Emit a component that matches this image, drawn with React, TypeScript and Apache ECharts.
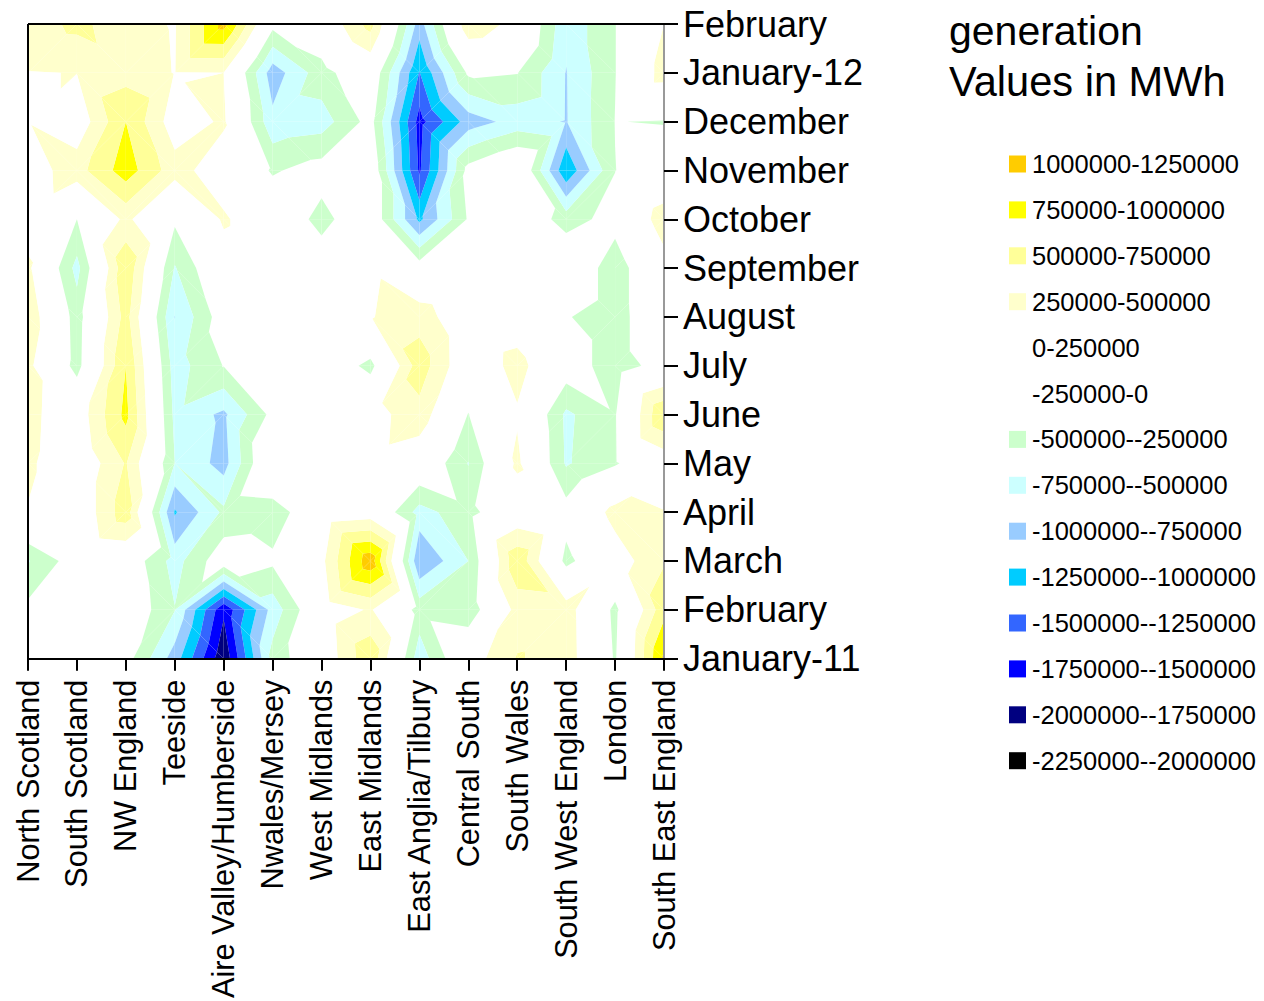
import React, { useEffect, useRef } from "react";
import * as echarts from "echarts";

const regions = ["North Scotland","South Scotland","NW England","Teeside","Aire Valley/Humberside","Nwales/Mersey","West Midlands","East Midlands","East Anglia/Tilbury","Central South","South Wales","South West England","London","South East England"];
const months = ["January-11","February","March","April","May","June","July","August","September","October","November","December","January-12","February"];

// values in thousands of MWh, from January-11 to the last February
const northScotland = [100,-175,-520,236,305,316,324,446,310,87,100,240,240,350];
const southScotland = [0,0,-90,0,0,80,-350,-370,-583,-250,400,60,255,570];
const nwEngland = [-140,10,-30,650,520,820,750,600,710,320,880,750,400,350];
const teeside = [-870,-490,-600,-1030,-500,-560,-620,-755,-520,-200,360,100,240,230];
const aireValley = [-1950,-1700,-60,-450,-850,-800,-240,-90,100,290,80,290,250,1100];
const nwalesMersey = [-400,-650,-200,-400,150,-170,-100,0,0,0,-280,-680,-890,-160];
const westMidlands = [30,70,180,20,0,0,0,0,-70,-340,-130,-620,-350,0];
const eastMidlands = [700,280,1180,100,150,130,-330,235,210,0,0,-150,0,600];
const eastAnglia = [-650,-350,-990,-600,40,414,640,400,-100,-1060,-1540,-1600,-1260,-870];
const centralSouth = [100,-440,-500,-340,-510,-260,10,0,-170,-220,-150,-880,-200,450];
const southWales = [520,350,700,30,310,220,350,80,0,0,130,-650,-240,150];
const southWest = [400,390,-330,-130,-530,-550,-80,-230,30,-360,-1210,-765,-760,-680];
const london = [-280,-320,100,350,-280,-270,-400,-400,-400,-150,-255,-245,-260,-260];
const southEast = [1050,670,480,260,50,750,-120,100,130,400,-50,-265,378,250];
const grid = [northScotland,southScotland,nwEngland,teeside,aireValley,nwalesMersey,westMidlands,eastMidlands,eastAnglia,centralSouth,southWales,southWest,london,southEast];

const bandLabels = ["1000000-1250000","750000-1000000","500000-750000","250000-500000","0-250000","-250000-0","-500000--250000","-750000--500000","-1000000--750000","-1250000--1000000","-1500000--1250000","-1750000--1500000","-2000000--1750000","-2250000--2000000"];
const bandLows = [1000,750,500,250,0,-250,-500,-750,-1000,-1250,-1500,-1750,-2000,-2250];
const bandColors = ["#FFCC00","#FFFF00","#FFFF99","#FFFFCC","#FFFFFF","#FFFFFF","#CCFFCC","#CCFFFF","#99CCFF","#00CCFF","#3366FF","#0000FF","#000080","#000000"];

type V = [number, number, number];

function clip(poly: V[], limit: number, keepAbove: boolean): V[] {
  const out: V[] = [];
  for (let k = 0; k < poly.length; k++) {
    const a = poly[k];
    const b = poly[(k + 1) % poly.length];
    const ina = keepAbove ? a[2] >= limit : a[2] <= limit;
    const inb = keepAbove ? b[2] >= limit : b[2] <= limit;
    if (ina) out.push(a);
    if (ina !== inb) {
      const t = (limit - a[2]) / (b[2] - a[2]);
      out.push([a[0] + t * (b[0] - a[0]), a[1] + t * (b[1] - a[1]), limit]);
    }
  }
  return out;
}

const cells: number[][] = [];
for (let i = 0; i < regions.length - 1; i++) {
  for (let j = 0; j < months.length - 1; j++) cells.push([i, j]);
}

function bandSeries(b: number) {
  const lo = bandLows[b];
  const hi = lo + 250;
  return {
    type: "custom",
    name: bandLabels[b],
    coordinateSystem: "cartesian2d",
    itemStyle: { color: bandColors[b] },
    silent: true,
    clip: false,
    encode: { x: 0, y: 1 },
    data: cells,
    renderItem: (params: any, api: any) => {
      const i = api.value(0);
      const j = api.value(1);
      const p00 = api.coord([i, j]);
      const p11 = api.coord([i + 1, j + 1]);
      const A: V = [p00[0], p00[1], grid[i][j]];
      const B: V = [p11[0], p00[1], grid[i + 1][j]];
      const C: V = [p11[0], p11[1], grid[i + 1][j + 1]];
      const D: V = [p00[0], p11[1], grid[i][j + 1]];
      // each cell is split along the diagonal that joins its higher pair of corners
      const tris: V[][] = A[2] + C[2] >= B[2] + D[2] ? [[A, B, C], [A, C, D]] : [[A, B, D], [B, C, D]];
      const children: any[] = [];
      for (const t of tris) {
        const poly = clip(clip(t, lo, true), hi, false);
        if (poly.length >= 3) {
          children.push({
            type: "polygon",
            shape: { points: poly.map((q) => [q[0], q[1]]) },
            style: { fill: bandColors[b] },
          });
        }
      }
      return { type: "group", children };
    },
  };
}

const FONT = "'Liberation Sans', Arial, sans-serif";

export default function App() {
  const ref = useRef<HTMLDivElement>(null);
  useEffect(() => {
    const chart = echarts.init(ref.current!, undefined, { renderer: "svg" });
    chart.setOption({
      animation: false,
      backgroundColor: "#fff",
      textStyle: { fontFamily: FONT },
      grid: { left: 28, top: 24, width: 636, height: 636 },
      xAxis: {
        type: "category",
        data: regions,
        boundaryGap: false,
        position: "bottom",
        z: 50,
        axisLine: { show: true, onZero: false, lineStyle: { color: "#000", width: 2 } },
        axisTick: { show: true, interval: 0, length: 12, lineStyle: { color: "#000", width: 2 } },
        splitLine: { show: false },
        axisLabel: { rotate: 90, interval: 0, margin: 21, padding: [0, 0, 8, 0], fontSize: 30.7, color: "#000", fontFamily: FONT, hideOverlap: false },
      },
      yAxis: {
        type: "category",
        data: months,
        boundaryGap: false,
        position: "right",
        z: 50,
        axisLine: { show: true, onZero: false, lineStyle: { color: "#999", width: 2 } },
        axisTick: { show: true, interval: 0, length: 14, lineStyle: { color: "#000", width: 2 } },
        splitLine: { show: false },
        axisLabel: { interval: 0, margin: 19, padding: [0, 0, 1, 0], fontSize: 36, color: "#000", fontFamily: FONT, hideOverlap: false },
      },
      legend: {
        orient: "vertical",
        left: 1009,
        top: 151,
        padding: 0,
        itemWidth: 17,
        itemHeight: 17,
        itemGap: 19.9,
        icon: "rect",
        selectedMode: false,
        data: bandLabels,
        textStyle: { fontSize: 25.5, lineHeight: 26, padding: [0, 0, 0, 1], color: "#000", fontFamily: FONT },
      },
      graphic: [
        { type: "line", z: 100, shape: { x1: 28, y1: 24, x2: 664, y2: 24 }, style: { stroke: "#000", lineWidth: 2 } },
        { type: "line", z: 100, shape: { x1: 28, y1: 24, x2: 28, y2: 660 }, style: { stroke: "#000", lineWidth: 2 } },
        { type: "text", left: 949, top: 10, style: { text: "generation", font: `41px ${FONT}`, fill: "#000" } },
        { type: "text", left: 949, top: 60, style: { text: "Values in MWh", font: `41.6px ${FONT}`, fill: "#000" } },
      ],
      series: bandLabels.map((_, b) => bandSeries(b)),
    });
    return () => chart.dispose();
  }, []);
  return <div ref={ref} style={{ position: "fixed", left: 0, top: 0, width: 1264, height: 1001 }} />;
}
